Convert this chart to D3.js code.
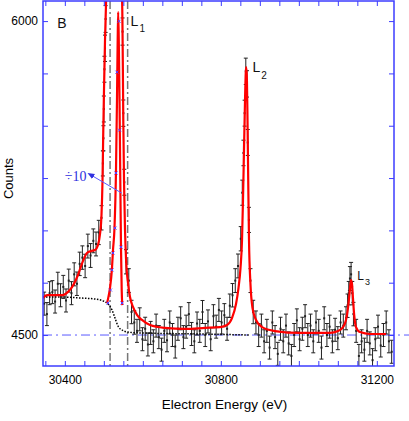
<!DOCTYPE html>
<html><head><meta charset="utf-8">
<script src="https://cdn.jsdelivr.net/npm/d3@7/dist/d3.min.js"></script>
<style>body{margin:0;background:#fff}svg{display:block}</style>
</head><body>
<svg id="chart" width="409" height="421"></svg>
<script>
// ---------- data ----------
const xDomain = [30344, 31244];
const yDomain = [4352, 6096];
const xTickValues = [30350,30400,30450,30500,30550,30600,30650,30700,30750,30800,30850,30900,30950,31000,31050,31100,31150,31200];
const xTickLabels = [30400, 30800, 31200];
const yTickValues = [4500,4750,5000,5250,5500,5750,6000];
const yTickLabels = [4500, 6000];
const markerEnergies = [30516, 30561];
const referenceLevel = 4500;

// fitted curve (red)
const fitCurve = [
 [30344,4677],[30354.3,4691],[30374.8,4691],[30395.3,4691],[30408.1,4706],[30418.4,4729],
 [30433.7,4787],[30446.6,4854],[30456.8,4892],[30467.1,4901],[30477.3,4906],[30485.0,4930],
 [30490.2,4983],[30494.0,5073],[30496.6,5241],[30498.6,5479],[30500.4,5670],[30503.0,5909],
 [30505.5,6076],[30506.3,6130],[30546.0,6130],[30547.3,6053],[30548.6,5814],[30549.9,5527],
 [30551.7,5241],[30554.3,5002],[30556.8,4868],[30562.0,4748],[30567.1,4682],[30574.8,4634],
 [30585.0,4596],[30597.8,4572],[30618.3,4548],[30656.8,4534],[30708.1,4529],[30759.4,4534],
 [30797.8,4538],[30815.8,4548],[30828.6,4581],[30838.9,4648],[30845.3,4725],[30850.4,4820],
 [30854.3,4954],[30856.8,5145],[30859.4,5384],[30862.0,5623],[30864.0,5756],[30865.3,5780],
 [30866.9,5718],[30868.4,5527],[30870.2,5241],[30872.2,4954],[30876.1,4739],[30881.2,4629],
 [30890.2,4572],[30905.6,4538],[30938.9,4519],[31003.0,4510],[31079.9,4510],[31100.4,4519],
 [31113.2,4538],[31120.9,4572],[31126.0,4629],[31130.4,4706],[31133.7,4763],[31136.3,4744],
 [31138.8,4677],[31141.9,4596],[31146.6,4538],[31156.8,4514],[31182.5,4505],[31223.5,4505]
];

// L1 peak divided by 10 (red) and its data (blue x)
const div10Curve = [
 [30508.1,4653],[30510.7,4672],[30515.8,4725],[30520.9,4820],[30523.5,4906],[30527.3,5011],
 [30531.2,5288],[30533.7,5623],[30535.5,5909],[30536.8,6043],[30538.3,5909],[30540.2,5623],
 [30542.2,5241],[30544.0,4920],[30545.8,4715],[30547.3,4643]
];
const div10Points = [
 [30510.7,4653],[30517.1,4715],[30520.9,4811],[30523.5,4892],[30528.6,5011],[30531.2,5274],
 [30533.7,5756],[30538.9,5999],[30540.2,5479],[30544.0,4920],[30546.6,4653]
];

// background (dotted)
const backgroundCurve = [
 [30344,4682],[30387.6,4682],[30438.9,4677],[30477.3,4672],[30497.8,4663],[30510.7,4648],
 [30520.9,4620],[30528.6,4581],[30536.3,4543],[30546.6,4524],[30562.0,4514],[30592.7,4510],
 [30746.6,4505],[30874.8,4500]
];

// measured points: [energy, counts, error]
const dataPoints = [
 [30347,4650,55],[30354,4600,55],[30361,4700,55],[30368,4705,55],[30375,4660,55],[30382,4745,55],
 [30389,4690,55],[30396,4730,55],[30403,4665,55],[30410,4760,55],[30417,4700,55],[30424,4790,55],
 [30431,4745,56],[30438,4840,56],[30445,4870,56],[30452,4830,56],[30459,4925,57],[30466,4880,57],
 [30473,4950,57],[30480,4935,57],[30487,4990,58],[30494,5060,58],[30497.5,5320,60],[30499,5440,60],
 [30500,5580,62],[30501.5,5770,62],[30503,5870,63],[30504.5,6010,64],
 [30548,5950,65],[30550,5560,63],[30552.5,5230,62],[30557,4850,58],[30564,4760,57],[30571,4610,56],
 [30578,4560,56],[30585,4520,55],[30592,4575,55],[30599,4480,55],[30606,4530,55],[30613,4455,55],
 [30620,4510,55],[30627,4470,55],[30634,4545,55],[30641,4490,55],[30648,4430,55],[30655,4520,55],
 [30662,4475,55],[30669,4560,55],[30676,4500,55],[30683,4445,55],[30690,4530,55],[30697,4580,55],
 [30704,4490,55],[30711,4540,55],[30718,4600,55],[30725,4505,55],[30732,4470,55],[30739,4555,55],
 [30746,4520,55],[30753,4610,55],[30760,4500,55],[30767,4565,55],[30774,4480,55],[30781,4590,55],
 [30788,4540,55],[30795,4620,55],[30802,4560,55],[30809,4595,55],[30816,4530,55],[30823,4640,56],
 [30830,4690,56],[30837,4760,57],[30844,4830,57],[30851,4960,58],[30855,5180,60],[30858,5370,61],
 [30861,5560,62],[30864,5760,63],[30867,5700,63],[30869,5420,62],[30872,5050,60],[30876,4760,57],
 [30883,4610,56],[30890,4560,55],[30897,4500,55],[30904,4545,55],[30911,4470,55],[30918,4520,55],
 [30925,4440,55],[30932,4560,55],[30939,4490,55],[30946,4410,55],[30953,4530,55],[30960,4470,55],
 [30967,4545,55],[30974,4460,55],[30981,4400,55],[30988,4500,55],[30995,4570,55],[31002,4480,55],
 [31009,4530,55],[31016,4590,55],[31023,4500,55],[31030,4545,55],[31037,4470,55],[31044,4560,55],
 [31051,4520,55],[31058,4440,55],[31065,4580,55],[31072,4500,55],[31079,4540,55],[31086,4470,55],
 [31093,4525,55],[31100,4485,55],[31107,4560,55],[31114,4545,55],[31121,4580,55],[31125,4640,56],
 [31128,4700,56],[31131,4770,57],[31134,4790,57],[31137,4700,56],[31140,4600,56],[31147,4520,55],
 [31154,4400,55],[31161,4470,55],[31168,4430,55],[31175,4520,55],[31182,4460,55],[31189,4380,55],
 [31196,4480,55],[31203,4540,55],[31210,4450,55],[31217,4500,55],[31224,4560,55],[31231,4470,55],
 [31238,4420,55]
];

// ---------- drawing ----------
(function () {
const W = 409, H = 421;
const mLeft = 43, mRight = 394, mTop = 1, mBottom = 366;
const axisColor = "#3c3cff";
const font = "'Liberation Sans', Arial, sans-serif";

const svg = d3.select("#chart");
const x = d3.scaleLinear().domain(xDomain).range([mLeft, mRight]);
const y = d3.scaleLinear().domain(yDomain).range([mBottom, mTop]);

const defs = svg.append("defs");
defs.append("clipPath").attr("id", "clip")
  .append("rect").attr("x", mLeft).attr("y", mTop).attr("width", mRight - mLeft).attr("height", mBottom - mTop);
defs.append("marker").attr("id", "arrow").attr("viewBox", "0 0 10 10")
  .attr("refX", 1).attr("refY", 5).attr("markerWidth", 7).attr("markerHeight", 7)
  .attr("orient", "auto")
  .append("path").attr("d", "M0,1 L10,5 L0,9 Z").attr("fill", "#3030e0");

// reference level (blue dash-dot), extends past the right axis
svg.append("line")
  .attr("x1", mLeft).attr("x2", W).attr("y1", y(referenceLevel)).attr("y2", y(referenceLevel))
  .attr("stroke", "#5a5aff").attr("stroke-width", 1).attr("stroke-dasharray", "9,4,2,4");

const plot = svg.append("g").attr("clip-path", "url(#clip)");

// vertical marker lines (gray dash-dot)
plot.selectAll(".vmark").data(markerEnergies).enter().append("line")
  .attr("x1", d => x(d)).attr("x2", d => x(d)).attr("y1", mTop).attr("y2", mBottom)
  .attr("stroke", "#777").attr("stroke-width", 1.5).attr("stroke-dasharray", "8,3,2,3");

const line = d3.line().x(d => x(d[0])).y(d => y(d[1])).curve(d3.curveMonotoneX);

// error bars
const eb = plot.selectAll(".eb").data(dataPoints).enter().append("g").attr("stroke", "#222").attr("stroke-width", 1);
eb.append("line").attr("x1", d => x(d[0])).attr("x2", d => x(d[0]))
  .attr("y1", d => y(d[1] - d[2])).attr("y2", d => y(d[1] + d[2]));
eb.append("line").attr("x1", d => x(d[0]) - 2).attr("x2", d => x(d[0]) + 2)
  .attr("y1", d => y(d[1] - d[2])).attr("y2", d => y(d[1] - d[2]));
eb.append("line").attr("x1", d => x(d[0]) - 2).attr("x2", d => x(d[0]) + 2)
  .attr("y1", d => y(d[1] + d[2])).attr("y2", d => y(d[1] + d[2]));
eb.append("rect").attr("x", d => x(d[0]) - 1).attr("y", d => y(d[1]) - 1).attr("width", 2).attr("height", 2)
  .attr("fill", "#222").attr("stroke", "none");

// background dotted
plot.append("path").datum(backgroundCurve).attr("d", line)
  .attr("fill", "none").attr("stroke", "#000").attr("stroke-width", 1.5).attr("stroke-dasharray", "1.5,1.5");

// fits
plot.append("path").datum(fitCurve).attr("d", line)
  .attr("fill", "none").attr("stroke", "#ff0000").attr("stroke-width", 2.2);
plot.append("path").datum(div10Curve).attr("d", line)
  .attr("fill", "none").attr("stroke", "#ff0000").attr("stroke-width", 2.2);

// ÷10 data (blue x)
const xs = plot.selectAll(".bx").data(div10Points).enter().append("g").attr("stroke", "#5a3cff").attr("stroke-width", 1);
xs.append("line").attr("x1", d => x(d[0]) - 1.5).attr("x2", d => x(d[0]) + 1.5)
  .attr("y1", d => y(d[1]) - 1.5).attr("y2", d => y(d[1]) + 1.5);
xs.append("line").attr("x1", d => x(d[0]) - 1.5).attr("x2", d => x(d[0]) + 1.5)
  .attr("y1", d => y(d[1]) + 1.5).attr("y2", d => y(d[1]) - 1.5);

// axes
function styleAxis(g) {
  g.selectAll("path.domain").remove();
  g.selectAll(".tick line").attr("stroke", axisColor).attr("stroke-width", 1);
  g.selectAll("text").attr("fill", "#000").style("font-family", font).style("font-size", "12px");
}
const fmtX = d => xTickLabels.includes(d) ? String(d) : "";
const fmtY = d => yTickLabels.includes(d) ? String(d) : "";
svg.append("g").attr("transform", `translate(0,${mBottom})`)
  .call(d3.axisBottom(x).tickValues(xTickValues).tickSizeInner(-5).tickSizeOuter(0).tickPadding(9).tickFormat(fmtX))
  .call(styleAxis);
svg.append("g").attr("transform", `translate(0,${mTop})`)
  .call(d3.axisTop(x).tickValues(xTickValues).tickSizeInner(-5).tickSizeOuter(0).tickFormat(""))
  .call(styleAxis);
svg.append("g").attr("transform", `translate(${mLeft},0)`)
  .call(d3.axisLeft(y).tickValues(yTickValues).tickSizeInner(-5).tickSizeOuter(0).tickPadding(5).tickFormat(fmtY))
  .call(styleAxis);
svg.append("g").attr("transform", `translate(${mRight},0)`)
  .call(d3.axisRight(y).tickValues(yTickValues).tickSizeInner(-5).tickSizeOuter(0).tickFormat(""))
  .call(styleAxis);

svg.append("rect").attr("x", mLeft).attr("y", mTop).attr("width", mRight - mLeft).attr("height", mBottom - mTop)
  .attr("fill", "none").attr("stroke", axisColor).attr("stroke-width", 1.5);

// axis titles
svg.append("text").attr("x", (mLeft + mRight) / 2 + 6).attr("y", 409).attr("text-anchor", "middle")
  .style("font-family", font).style("font-size", "13.5px").text("Electron Energy (eV)");
svg.append("text").attr("transform", `translate(13,${(mTop + mBottom) / 2 - 5}) rotate(-90)`).attr("text-anchor", "middle")
  .style("font-family", font).style("font-size", "13px").text("Counts");

// panel label and peak labels
function peakLabel(px, py, main, sub, size, subSize, dx, dy) {
  const t = svg.append("text").attr("x", px).attr("y", py).style("font-family", font).style("font-size", size + "px").attr("fill", "#111");
  t.append("tspan").text(main);
  if (sub) t.append("tspan").attr("dx", dx).attr("dy", dy).style("font-size", subSize + "px").text(sub);
}
peakLabel(x(30350) + 12, y(5967), "B", null, 14);
peakLabel(x(30566) + 1, y(5976), "L", "1", 14, 10, 1, 6);
peakLabel(x(30881), y(5756), "L", "2", 14, 10, 1, 7);
peakLabel(x(31150), y(4762), "L", "3", 12, 9, 1, 5);

// ÷10 annotation
svg.append("text").attr("x", x(30400)).attr("y", y(5236)).style("font-family", "'Liberation Serif', 'Times New Roman', serif")
  .style("font-size", "14px").attr("fill", "#3030e0").text("÷10");
svg.append("line").attr("x1", x(30546)).attr("y1", y(5178)).attr("x2", x(30472)).attr("y2", y(5259))
  .attr("stroke", "#5a5aff").attr("stroke-width", 1).attr("marker-end", "url(#arrow)");
})();
</script>
</body></html>
